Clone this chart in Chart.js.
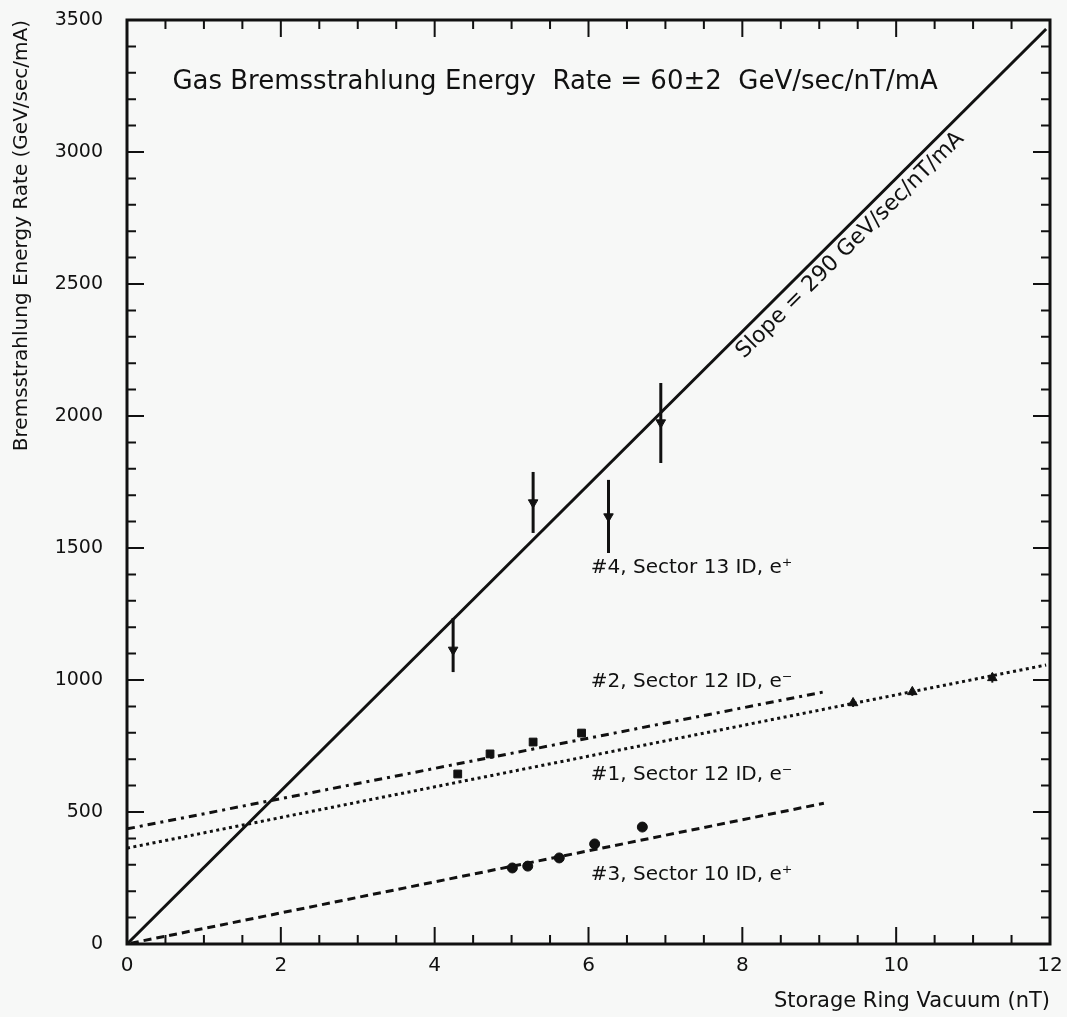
<!DOCTYPE html>
<html lang="en">
<head>
<meta charset="UTF-8">
<title>Gas Bremsstrahlung Energy Rate</title>
<script src="https://cdn.jsdelivr.net/npm/chart.js"></script>
<style>
    body { margin: 0; background: #f7f8f7; }
    canvas { display: block; }
</style>
</head>
<body>
<canvas id="chart" width="1067" height="1017"></canvas>
<script>
    // #4, Sector 13 ID, e+ (with error bars)
    const s4X = [4.24, 5.28, 6.26, 6.94];
    const s4Y = [1114, 1672, 1619, 1975];
    const s4Lo = [1030, 1557, 1481, 1822];
    const s4Hi = [1235, 1788, 1758, 2125];
    // #2, Sector 12 ID, e-
    const s2X = [4.30, 4.72, 5.28, 5.91];
    const s2Y = [644, 720, 765, 799];
    // #1, Sector 12 ID, e-
    const s1X = [9.44, 10.21, 11.25];
    const s1Y = [913, 955, 1008];
    const s1Lo = [898, 940, 990];
    const s1Hi = [928, 970, 1026];
    // #3, Sector 10 ID, e+
    const s3X = [5.01, 5.21, 5.62, 6.08, 6.70];
    const s3Y = [288, 295, 326, 379, 443];

    // fitted lines, end points
    const fit4X = [0, 11.95], fit4Y = [0, 3466];
    const fit2X = [0, 9.06], fit2Y = [436, 955];
    const fit1X = [0, 11.95], fit1Y = [363, 1057];
    const fit3X = [0.05, 9.06], fit3Y = [3, 533];

    const xTicks = [0, 2, 4, 6, 8, 10, 12];
    const yTicks = [0, 500, 1000, 1500, 2000, 2500, 3000, 3500];

    const FONT = "'DejaVu Sans', sans-serif";
    const INK = '#111';

    const pts = (xs, ys) => xs.map((v, i) => ({x: v, y: ys[i]}));

    function lineSet(xs, ys, dash) {
        return {
            data: pts(xs, ys), showLine: true, pointRadius: 0,
            borderColor: INK, borderWidth: 3, borderDash: dash, fill: false
        };
    }
    function markSet(xs, ys, style, r, rot) {
        return {
            data: pts(xs, ys), showLine: false, pointStyle: style, pointRadius: r,
            rotation: rot || 0, backgroundColor: INK, borderColor: INK, borderWidth: 1
        };
    }

    function errorBars(ctx, x, y, xs, lo, hi, w) {
        ctx.lineWidth = w;
        xs.forEach((v, i) => {
            const px = x.getPixelForValue(v);
            ctx.beginPath();
            ctx.moveTo(px, y.getPixelForValue(lo[i]));
            ctx.lineTo(px, y.getPixelForValue(hi[i]));
            ctx.stroke();
        });
    }

    const decor = {
        id: 'decor',
        beforeDatasetsDraw(chart) {
            const {ctx, scales: {x, y}} = chart;
            ctx.save();
            ctx.strokeStyle = INK;
            errorBars(ctx, x, y, s4X, s4Lo, s4Hi, 3);
            errorBars(ctx, x, y, s1X, s1Lo, s1Hi, 2);
            ctx.restore();
        },
        afterDatasetsDraw(chart) {
            const {ctx, chartArea: a, scales: {x, y}} = chart;
            ctx.save();
            ctx.strokeStyle = INK;
            ctx.lineWidth = 2;
            ctx.beginPath();
            for (let i = 0; i <= 24; i++) {
                const px = x.getPixelForValue(i / 2);
                const len = i % 4 === 0 ? 17 : 9;
                ctx.moveTo(px, a.bottom); ctx.lineTo(px, a.bottom - len);
                ctx.moveTo(px, a.top); ctx.lineTo(px, a.top + len);
            }
            for (let i = 0; i <= 35; i++) {
                const py = y.getPixelForValue(i * 100);
                const len = i % 5 === 0 ? 17 : 9;
                ctx.moveTo(a.left, py); ctx.lineTo(a.left + len, py);
                ctx.moveTo(a.right, py); ctx.lineTo(a.right - len, py);
            }
            ctx.stroke();
            ctx.lineWidth = 3;
            ctx.strokeRect(a.left, a.top, a.width, a.height);

            ctx.fillStyle = INK;
            ctx.textBaseline = 'middle';
            ctx.textAlign = 'left';
            ctx.font = '26px ' + FONT;
            ctx.fillText('Gas Bremsstrahlung Energy  Rate = 60\u00b12  GeV/sec/nT/mA',
                x.getPixelForValue(0.59), y.getPixelForValue(3265));

            ctx.font = '20px ' + FONT;
            const labels = [
                ['#4, Sector 13 ID, e\u207a', 1424],
                ['#2, Sector 12 ID, e\u207b', 992],
                ['#1, Sector 12 ID, e\u207b', 640],
                ['#3, Sector 10 ID, e\u207a', 261]
            ];
            labels.forEach(([t, v]) => ctx.fillText(t, x.getPixelForValue(6.03), y.getPixelForValue(v)));

            // slope label along the solid fit line, just below it
            const ang = Math.atan2(
                y.getPixelForValue(fit4Y[1]) - y.getPixelForValue(fit4Y[0]),
                x.getPixelForValue(fit4X[1]) - x.getPixelForValue(fit4X[0]));
            ctx.translate(x.getPixelForValue(9.44), y.getPixelForValue(2636));
            ctx.rotate(ang);
            ctx.textAlign = 'center';
            ctx.font = '22px ' + FONT;
            ctx.fillText('Slope = 290 GeV/sec/nT/mA', 0, -4);
            ctx.restore();
        }
    };

    new Chart(document.getElementById('chart'), {
        type: 'scatter',
        data: {
            datasets: [
                lineSet(fit4X, fit4Y, []),
                lineSet(fit2X, fit2Y, [8, 5, 3, 5]),
                lineSet(fit1X, fit1Y, [3, 3.5]),
                lineSet(fit3X, fit3Y, [8, 5]),
                markSet(s4X, s4Y, 'triangle', 5.5, 180),
                markSet(s2X, s2Y, 'rect', 5.5),
                markSet(s1X, s1Y, 'triangle', 5.5),
                markSet(s3X, s3Y, 'circle', 5)
            ]
        },
        options: {
            responsive: false,
            animation: false,
            layout: { padding: { top: 20, right: 17, left: 0, bottom: 0 } },
            plugins: { legend: { display: false }, tooltip: { enabled: false } },
            scales: {
                x: {
                    type: 'linear', min: 0, max: 12,
                    grid: { display: false, drawTicks: false },
                    border: { display: false },
                    afterBuildTicks: s => { s.ticks = xTicks.map(v => ({value: v})); },
                    ticks: { color: INK, padding: 10, font: { family: FONT, size: 20 } },
                    title: {
                        display: true, text: 'Storage Ring Vacuum (nT)', align: 'end',
                        color: INK, font: { family: FONT, size: 21 }, padding: { top: 0, bottom: 3 }
                    },
                    afterFit: s => { s.height = 73; s.paddingLeft = 0; s.paddingRight = 0; }
                },
                y: {
                    min: 0, max: 3500,
                    grid: { display: false, drawTicks: false },
                    border: { display: false },
                    afterBuildTicks: s => { s.ticks = yTicks.map(v => ({value: v})); },
                    ticks: {
                        color: INK, padding: 24, font: { family: FONT, size: 19 },
                        callback: v => String(v)
                    },
                    title: {
                        display: true, text: 'Bremsstrahlung Energy Rate (GeV/sec/mA)', align: 'end',
                        color: INK, font: { family: FONT, size: 20 }, padding: { top: 10, bottom: 0 }
                    },
                    afterFit: s => { s.width = 127; s.paddingTop = 0; s.paddingBottom = 0; }
                }
            }
        },
        plugins: [decor]
    });
</script>
</body>
</html>
